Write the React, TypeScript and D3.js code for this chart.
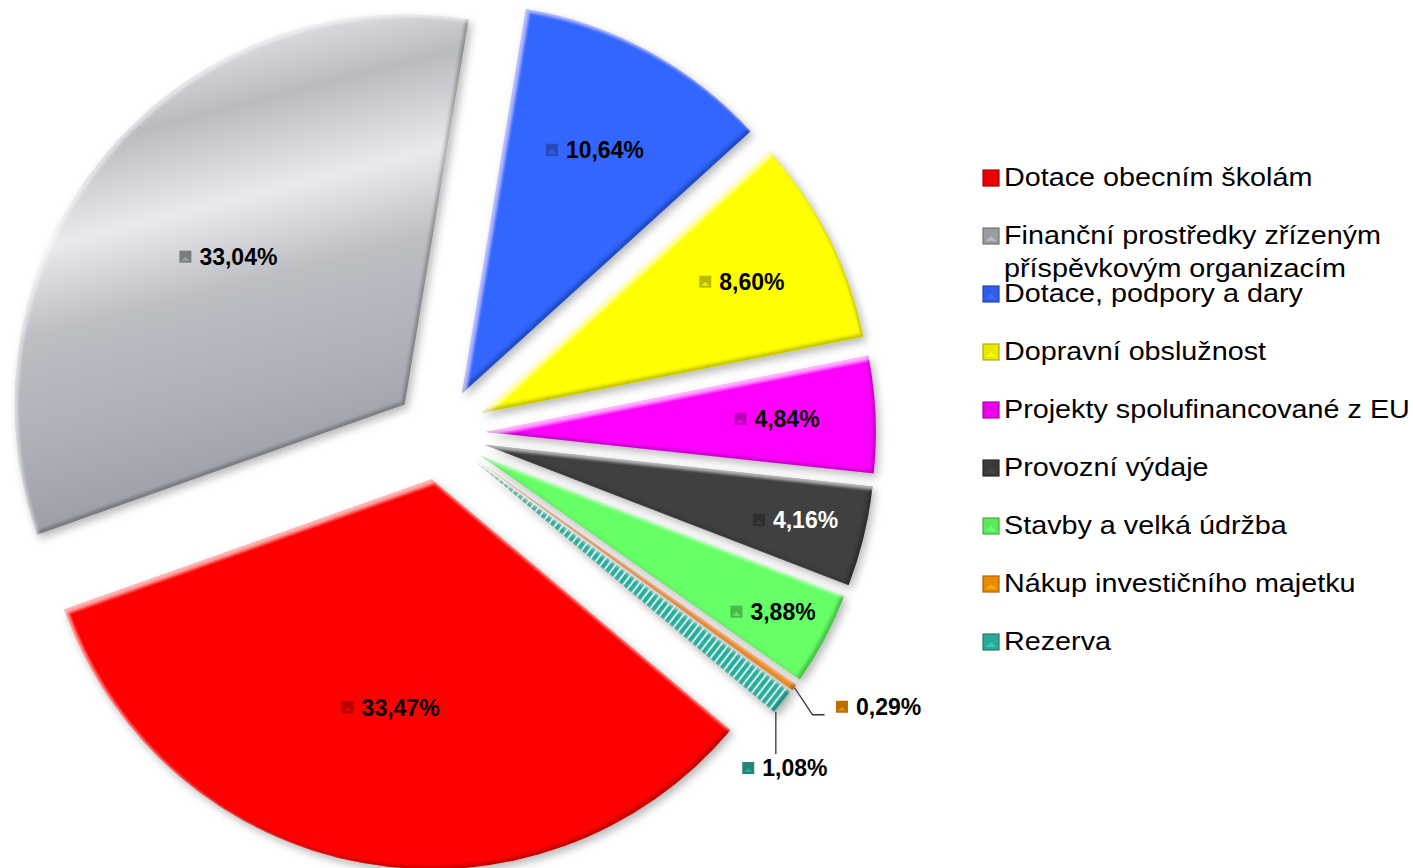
import React from "react";
import * as d3 from "d3";

// ---------- data ----------
const categories = [
  "Dotace obecním školám",
  "Finanční prostředky zřízeným příspěvkovým organizacím",
  "Dotace, podpory a dary",
  "Dopravní obslužnost",
  "Projekty spolufinancované z EU",
  "Provozní výdaje",
  "Stavby a velká údržba",
  "Nákup investičního majetku",
  "Rezerva",
];
const legendLines = [
  ["Dotace obecním školám"],
  ["Finanční prostředky zřízeným", "příspěvkovým organizacím"],
  ["Dotace, podpory a dary"],
  ["Dopravní obslužnost"],
  ["Projekty spolufinancované z EU"],
  ["Provozní výdaje"],
  ["Stavby a velká údržba"],
  ["Nákup investičního majetku"],
  ["Rezerva"],
];
const values = [33.47, 33.04, 10.64, 8.6, 4.84, 4.16, 3.88, 0.29, 1.08];

// ---------- styles / layout ----------
const baseColors = ["#ff0000", "#a9abb2", "#3366ff", "#ffff00", "#ff00ff", "#404040", "#66ff66", "#ff9900", "#2fb8a6"];
const fills = ["#ff0000", "url(#grayGrad)", "#3366ff", "#ffff00", "#ff00ff", "#404040", "#66ff66", "#f59300", "url(#tealPat)"];
const labelColors = ["#000", "#000", "#000", "#000", "#000", "#fff", "#000", "#000", "#000"];
// radial position of inside labels (fraction of radius); null -> outside label
const labelRadius = [0.594, 0.59, 0.712, 0.749, 0.747, 0.82, 0.85, null, null];

const W = 1413;
const H = 868;
const R = 390;
const EXPLODE = 46;
const CX = 440;
const CY = 434;
const START = (130 * Math.PI) / 180;

const fmt = (v: number) => d3.format(".2f")(v).replace(".", ",") + "%";

// approximate bold Arial widths (em)
const charW: Record<string, number> = { ",": 0.278, "%": 0.889 };
const textWidth = (s: string, size: number) =>
  s.split("").reduce((acc, c) => acc + (charW[c] ?? 0.556), 0) * size;

export default function App() {
  const pie = d3
    .pie<number>()
    .sort(null)
    .value((d) => d)
    .startAngle(START)
    .endAngle(START + Math.PI * 2);
  const arcs = pie(values);
  const arcGen = d3.arc<d3.PieArcDatum<number>>().innerRadius(0).outerRadius(R);

  const LFS = 23; // label font size
  const KEY = 12;
  const GAP = 8;

  const labelGroup = (i: number, x: number, y: number) => {
    const t = fmt(values[i]);
    const tw = textWidth(t, LFS);
    const total = KEY + GAP + tw;
    const left = x - total / 2;
    const key = d3.color(baseColors[i])!.darker(0.9).toString();
    const keyLight = d3.color(baseColors[i])!.darker(0.2).toString();
    return (
      <g key={"lab" + i}>
        <rect x={left} y={y - KEY / 2} width={KEY} height={KEY} fill={key} />
        <path
          d={`M${left + 2},${y + KEY / 2 - 2} L${left + KEY / 2},${y} L${left + KEY - 2},${y + KEY / 2 - 2} Z`}
          fill={keyLight}
        />
        <text
          x={left + KEY + GAP}
          y={y}
          dy="0.36em"
          fontFamily="'Liberation Sans', Arial, sans-serif"
          fontWeight="bold"
          fontSize={LFS}
          fill={labelColors[i]}
        >
          {t}
        </text>
      </g>
    );
  };

  const slices: React.ReactNode[] = [];
  const labels: React.ReactNode[] = [];
  const leaders: React.ReactNode[] = [];

  arcs.forEach((a, i) => {
    const mid = (a.startAngle + a.endAngle) / 2;
    const dx = Math.sin(mid);
    const dy = -Math.cos(mid);
    const ox = CX + dx * EXPLODE;
    const oy = CY + dy * EXPLODE;
    slices.push(
      <path
        key={"s" + i}
        d={arcGen(a) || ""}
        transform={`translate(${ox},${oy})`}
        fill={fills[i]}
        filter="url(#bevel)"
      />
    );
    const lr = labelRadius[i];
    if (lr != null) {
      labels.push(labelGroup(i, ox + dx * lr * R, oy + dy * lr * R));
    } else if (i === 7) {
      // orange: leader from arc middle with an elbow to the right
      const px = ox + dx * R;
      const py = oy + dy * R;
      const ex = px + 18;
      const ey = py + 27;
      const lx = ex + 66;
      const ly = ey - 8;
      leaders.push(
        <polyline
          key={"ld" + i}
          points={`${px},${py} ${ex},${ey} ${ex + 12},${ey}`}
          fill="none"
          stroke="#333"
          strokeWidth={1.3}
        />
      );
      labels.push(labelGroup(i, lx, ly));
    } else {
      // teal: leader from the arc near its end, straight down
      const ang = a.endAngle - 0.05 * (a.endAngle - a.startAngle);
      const px = ox + Math.sin(ang) * R;
      const py = oy - Math.cos(ang) * R;
      const ly = py + 56;
      leaders.push(
        <line key={"ld" + i} x1={px} y1={py} x2={px} y2={ly - 14} stroke="#333" strokeWidth={1.3} />
      );
      labels.push(labelGroup(i, px + 9, ly));
    }
  });

  const LX = 983;
  const LY0 = 186;
  const LSTEP = 58;
  const LFS2 = 25;

  return (
    <svg
      width={W}
      height={H}
      viewBox={`0 0 ${W} ${H}`}
      style={{ position: "absolute", left: 0, top: 0, background: "#fff" }}
    >
      <defs>
        <linearGradient id="grayGrad" x1="0" y1="0" x2="0.22" y2="1">
          <stop offset="0" stopColor="#8f9198" />
          <stop offset="0.07" stopColor="#cfd0d4" />
          <stop offset="0.15" stopColor="#dcdde0" />
          <stop offset="0.27" stopColor="#b9bbc1" />
          <stop offset="0.44" stopColor="#e9eaed" />
          <stop offset="0.6" stopColor="#bcbec4" />
          <stop offset="0.8" stopColor="#aeb0b7" />
          <stop offset="1" stopColor="#9a9ca4" />
        </linearGradient>
        <pattern
          id="tealPat"
          patternUnits="userSpaceOnUse"
          width="6"
          height="6"
          patternTransform="rotate(38)"
        >
          <rect width="6" height="6" fill="#e4f7f4" />
          <rect width="4.2" height="6" fill="#2aae9c" />
        </pattern>
        <filter id="bevel" x="-15%" y="-15%" width="130%" height="130%">
          <feGaussianBlur in="SourceAlpha" stdDeviation="4" result="sb" />
          <feOffset in="sb" dx="3" dy="4" result="so" />
          <feFlood floodColor="#000" floodOpacity="0.28" />
          <feComposite in2="so" operator="in" result="shadow" />
          <feOffset in="SourceAlpha" dx="-3" dy="-3" result="o1" />
          <feGaussianBlur in="o1" stdDeviation="1.6" result="o1b" />
          <feComposite in="SourceAlpha" in2="o1b" operator="out" result="rim1" />
          <feFlood floodColor="#000" floodOpacity="0.45" />
          <feComposite in2="rim1" operator="in" result="darkRim" />
          <feOffset in="SourceAlpha" dx="2.5" dy="2.5" result="o2" />
          <feGaussianBlur in="o2" stdDeviation="1.6" result="o2b" />
          <feComposite in="SourceAlpha" in2="o2b" operator="out" result="rim2" />
          <feFlood floodColor="#fff" floodOpacity="0.45" />
          <feComposite in2="rim2" operator="in" result="lightRim" />
          <feMerge>
            <feMergeNode in="shadow" />
            <feMergeNode in="SourceGraphic" />
            <feMergeNode in="darkRim" />
            <feMergeNode in="lightRim" />
          </feMerge>
        </filter>
      </defs>
      <g>{slices}</g>
      <g>{leaders}</g>
      <g>{labels}</g>
      <g>
        {categories.map((c, i) => {
          const y = LY0 + i * LSTEP;
          const col = d3.color(baseColors[i])!;
          return (
            <g key={"lg" + i}>
              <rect
                x={LX}
                y={y - 16}
                width={16}
                height={16}
                fill={col.darker(0.25).toString()}
                stroke={col.darker(1.1).toString()}
                strokeWidth={1.2}
              />
              <path
                d={`M${LX + 3},${y - 3} L${LX + 8},${y - 8} L${LX + 13},${y - 3} Z`}
                fill={col.brighter(0.4).toString()}
                opacity={0.8}
              />
              {legendLines[i].map((ln, j) => (
                <text
                  key={j}
                  transform={`translate(${LX + 21},${y + j * 33}) scale(1.15,1)`}
                  fontFamily="'Liberation Sans', Arial, sans-serif"
                  fontSize={LFS2}
                  fill="#000"
                >
                  {ln}
                </text>
              ))}
            </g>
          );
        })}
      </g>
    </svg>
  );
}
